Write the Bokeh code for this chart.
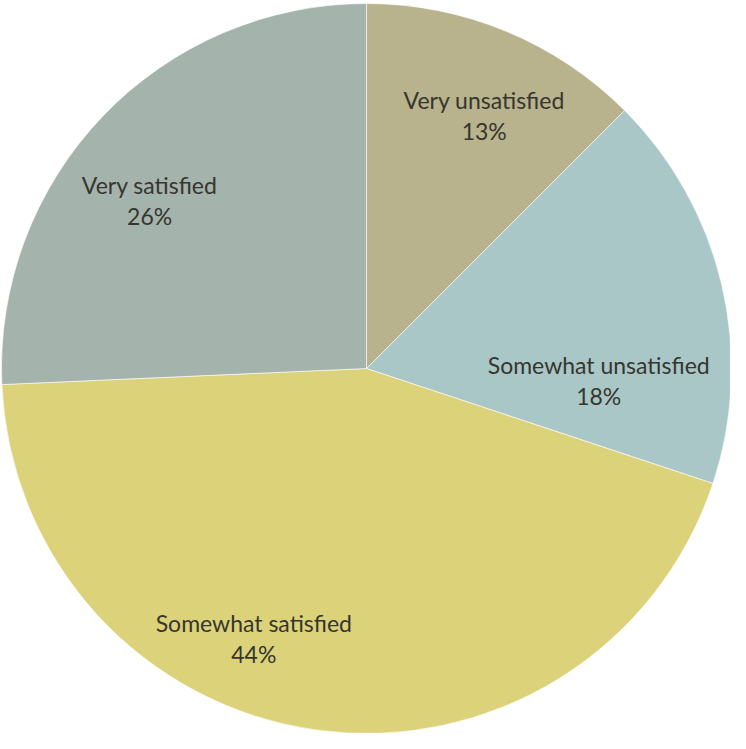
import math
from bokeh.plotting import figure
from bokeh.models import Range1d, ColumnDataSource
from bokeh.core.properties import value
from bokeh.embed import file_html
from bokeh.resources import INLINE

categories = ["Very unsatisfied", "Somewhat unsatisfied", "Somewhat satisfied", "Very satisfied"]
shares = [12.5, 17.6, 44.2, 25.7]
pct_labels = ["13%", "18%", "44%", "26%"]
colors = ["#B8B28D", "#AAC7C7", "#DBD27A", "#A5B3AD"]
# label layout (angle clockwise from 12 o'clock in degrees, radius as fraction)
label_angle_deg = [24.9, 92.9, 202.7, 307.9]
label_radius = [0.766, 0.637, 0.80, 0.753]

W, H = 730, 733
R_PX = 365.0
cx_px, cy_px = 366.0, 368.0

total = sum(shares)
starts, ends = [], []
cum = 0.0
for s in shares:
    f0 = cum / total
    cum += s
    f1 = cum / total
    # bokeh angles are counter-clockwise from +x; slices go clockwise from top
    starts.append(math.pi / 2 - f1 * 2 * math.pi)
    ends.append(math.pi / 2 - f0 * 2 * math.pi)

src = ColumnDataSource(dict(start=starts, end=ends, color=colors, cat=categories))

lx = [r * math.sin(math.radians(a)) for a, r in zip(label_angle_deg, label_radius)]
ly = [r * math.cos(math.radians(a)) for a, r in zip(label_angle_deg, label_radius)]
lsrc = ColumnDataSource(dict(x=lx, y=ly, name=categories, pct=pct_labels))

p = figure(width=W, height=H, output_backend="svg", toolbar_location=None,
           x_range=Range1d(-cx_px / R_PX, (W - cx_px) / R_PX),
           y_range=Range1d(-(H - cy_px) / R_PX, cy_px / R_PX),
           min_border=0)
p.axis.visible = False
p.grid.visible = False
p.outline_line_color = None
p.background_fill_color = "white"
p.border_fill_color = "white"

p.wedge(x=0, y=0, radius=1.0, start_angle="start", end_angle="end",
        fill_color="color", line_color="white", line_alpha=0.6, line_width=1,
        source=src)

common = dict(text_font=value("Lato"), text_font_size="23px", text_color="#36362F",
              text_align="center", text_baseline="middle", source=lsrc)
p.text(x="x", y="y", text="name", y_offset=-15, **common)
p.text(x="x", y="y", text="pct", y_offset=16, **common)

open("out.html", "w").write(file_html(p, INLINE))
